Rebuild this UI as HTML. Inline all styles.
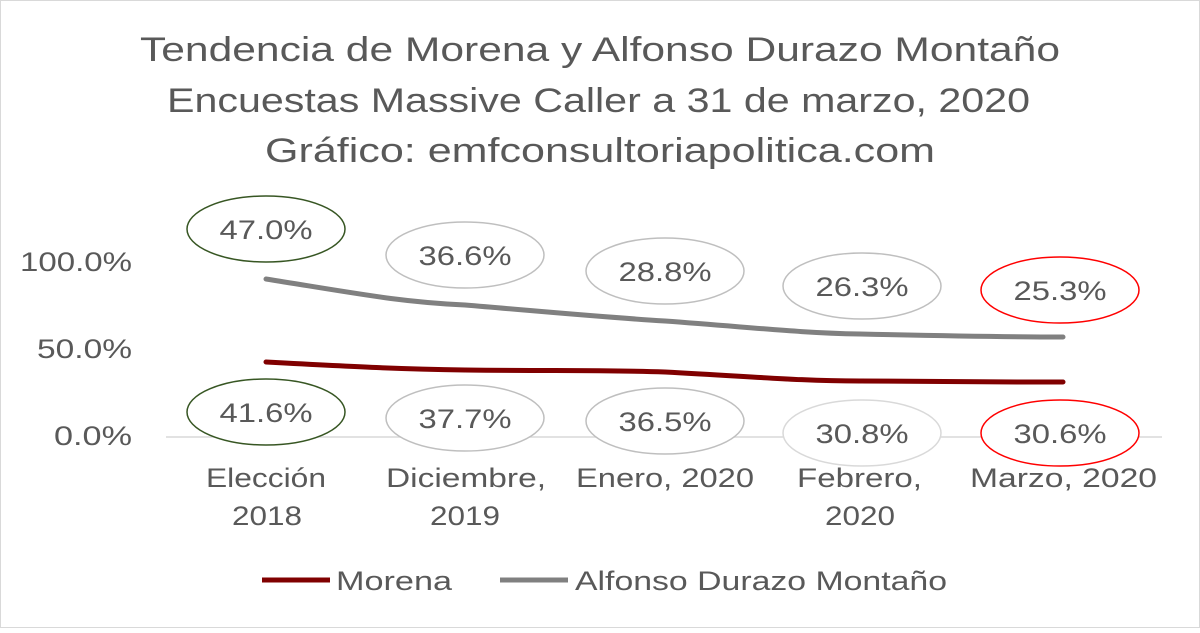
<!DOCTYPE html>
<html><head><meta charset="utf-8"><style>
body{margin:0;background:#fff}
svg text{font-family:"Liberation Sans",sans-serif;fill:#595959}
</style></head><body>
<svg width="1200" height="628" viewBox="0 0 1200 628" xmlns="http://www.w3.org/2000/svg">
<rect x="0.5" y="0.5" width="1199" height="627" fill="#fff" stroke="#d9d9d9"/>
<g font-size="34" lengthAdjust="spacingAndGlyphs">
<text x="140" y="61" textLength="920" lengthAdjust="spacingAndGlyphs">Tendencia de Morena y Alfonso Durazo Montaño</text>
<text x="167" y="112" textLength="863" lengthAdjust="spacingAndGlyphs">Encuestas Massive Caller a 31 de marzo, 2020</text>
<text x="265" y="162" textLength="670" lengthAdjust="spacingAndGlyphs">Gráfico: emfconsultoriapolitica.com</text>
</g>
<g font-size="27">
<text x="20" y="271" textLength="112" lengthAdjust="spacingAndGlyphs">100.0%</text>
<text x="37" y="358" textLength="95" lengthAdjust="spacingAndGlyphs">50.0%</text>
<text x="54" y="445" textLength="78" lengthAdjust="spacingAndGlyphs">0.0%</text>
</g>
<line x1="166" y1="437" x2="1162" y2="437" stroke="#d9d9d9" stroke-width="1.5"/>
<g font-size="27">
<text x="206" y="487" textLength="120" lengthAdjust="spacingAndGlyphs">Elección</text>
<text x="232" y="525" textLength="70" lengthAdjust="spacingAndGlyphs">2018</text>
<text x="386" y="487" textLength="160" lengthAdjust="spacingAndGlyphs">Diciembre,</text>
<text x="430" y="525" textLength="70" lengthAdjust="spacingAndGlyphs">2019</text>
<text x="576" y="487" textLength="178" lengthAdjust="spacingAndGlyphs">Enero, 2020</text>
<text x="797" y="487" textLength="125" lengthAdjust="spacingAndGlyphs">Febrero,</text>
<text x="825" y="525" textLength="70" lengthAdjust="spacingAndGlyphs">2020</text>
<text x="970" y="487" textLength="187" lengthAdjust="spacingAndGlyphs">Marzo, 2020</text>
</g>
<path d="M266,279 C360,294 400,302 465,305 C560,313 600,317 665,321 C760,328 800,333 860,334 C950,336 1000,337 1063,337" fill="none" stroke="#808080" stroke-width="5" stroke-linecap="round"/>
<path d="M266,362 C360,367 400,369 465,370 C560,371 600,370 665,372 C760,377 800,381 860,381 C950,382 1000,382 1063,382" fill="none" stroke="#800000" stroke-width="5" stroke-linecap="round"/>
<g fill="#fff" stroke-width="1.5">
<ellipse cx="266" cy="229" rx="79" ry="33" stroke="#375623"/>
<ellipse cx="465" cy="255" rx="79" ry="33" stroke="#bfbfbf"/>
<ellipse cx="665" cy="271" rx="79" ry="33" stroke="#bfbfbf"/>
<ellipse cx="862" cy="286" rx="79" ry="33" stroke="#bfbfbf"/>
<ellipse cx="1060" cy="290" rx="79" ry="33" stroke="#ff0000"/>
<ellipse cx="266" cy="412" rx="79" ry="33" stroke="#375623"/>
<ellipse cx="465" cy="418" rx="79" ry="33" stroke="#bfbfbf"/>
<ellipse cx="665" cy="421" rx="79" ry="33" stroke="#bfbfbf"/>
<ellipse cx="862" cy="433" rx="79" ry="33" stroke="#d9d9d9"/>
<ellipse cx="1060" cy="433" rx="79" ry="33" stroke="#ff0000"/>
</g>
<g font-size="27" text-anchor="middle">
<text x="266" y="239" textLength="93" lengthAdjust="spacingAndGlyphs">47.0%</text>
<text x="465" y="265" textLength="93" lengthAdjust="spacingAndGlyphs">36.6%</text>
<text x="665" y="281" textLength="93" lengthAdjust="spacingAndGlyphs">28.8%</text>
<text x="862" y="296" textLength="93" lengthAdjust="spacingAndGlyphs">26.3%</text>
<text x="1060" y="300" textLength="93" lengthAdjust="spacingAndGlyphs">25.3%</text>
<text x="266" y="422" textLength="93" lengthAdjust="spacingAndGlyphs">41.6%</text>
<text x="465" y="428" textLength="93" lengthAdjust="spacingAndGlyphs">37.7%</text>
<text x="665" y="431" textLength="93" lengthAdjust="spacingAndGlyphs">36.5%</text>
<text x="862" y="443" textLength="93" lengthAdjust="spacingAndGlyphs">30.8%</text>
<text x="1060" y="443" textLength="93" lengthAdjust="spacingAndGlyphs">30.6%</text>
</g>
<line x1="262" y1="580" x2="330" y2="580" stroke="#800000" stroke-width="5"/>
<line x1="500" y1="580" x2="568" y2="580" stroke="#808080" stroke-width="5"/>
<g font-size="27">
<text x="336" y="590" textLength="116" lengthAdjust="spacingAndGlyphs">Morena</text>
<text x="575" y="590" textLength="372" lengthAdjust="spacingAndGlyphs">Alfonso Durazo Montaño</text>
</g>
</svg>
</body></html>
